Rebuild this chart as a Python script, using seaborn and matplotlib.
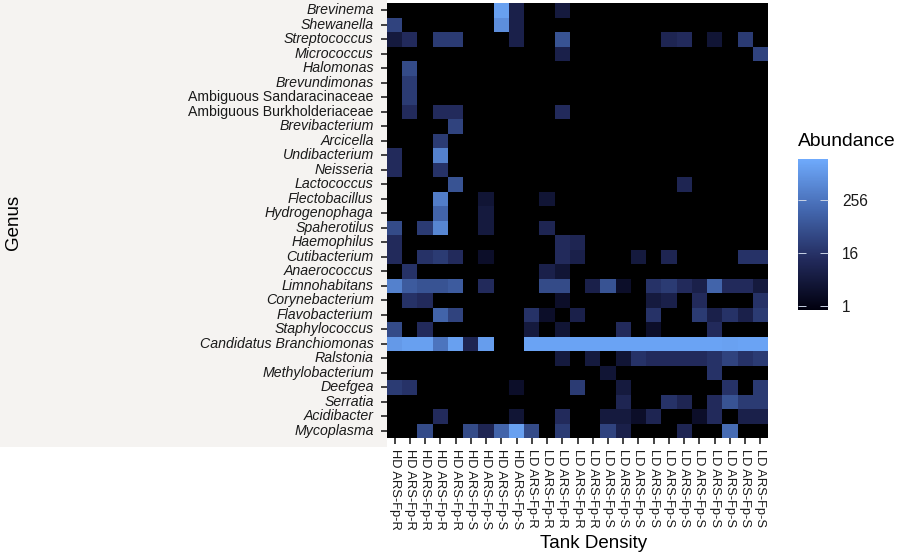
import matplotlib
matplotlib.use("Agg")
import matplotlib.pyplot as plt
from matplotlib.colors import LinearSegmentedColormap, LogNorm
from matplotlib.patches import Rectangle
import pandas as pd
import seaborn as sns

genera = ["Brevinema", "Shewanella", "Streptococcus", "Micrococcus", "Halomonas",
          "Brevundimonas", "Ambiguous Sandaracinaceae", "Ambiguous Burkholderiaceae",
          "Brevibacterium", "Arcicella", "Undibacterium", "Neisseria", "Lactococcus",
          "Flectobacillus", "Hydrogenophaga", "Spaherotilus", "Haemophilus",
          "Cutibacterium", "Anaerococcus", "Limnohabitans", "Corynebacterium",
          "Flavobacterium", "Staphylococcus", "Candidatus Branchiomonas", "Ralstonia",
          "Methylobacterium", "Deefgea", "Serratia", "Acidibacter", "Mycoplasma"]

samples = ["HD ARS-Fp-R"] * 5 + ["HD ARS-Fp-S"] * 4 + ["LD ARS-Fp-R"] * 5 + ["LD ARS-Fp-S"] * 11

abundance = [
    [0, 0, 0, 0, 0,   0, 0, 1450, 6, 0,   0, 4, 0, 0, 0,   0, 0, 0, 0, 0,   0, 0, 0, 0, 0],
    [32, 0, 0, 0, 0,   0, 0, 720, 6, 0,   0, 0, 0, 0, 0,   0, 0, 0, 0, 0,   0, 0, 0, 0, 0],
    [4, 11, 0, 23, 23,   0, 0, 0, 6, 0,   0, 64, 0, 0, 0,   0, 0, 0, 8, 11,   0, 3, 0, 23, 0],
    [0, 0, 0, 0, 0,   0, 0, 0, 0, 0,   0, 6, 0, 0, 0,   0, 0, 0, 0, 0,   0, 0, 0, 0, 32],
    [0, 45, 0, 0, 0,   0, 0, 0, 0, 0,   0, 0, 0, 0, 0,   0, 0, 0, 0, 0,   0, 0, 0, 0, 0],
    [0, 23, 0, 0, 0,   0, 0, 0, 0, 0,   0, 0, 0, 0, 0,   0, 0, 0, 0, 0,   0, 0, 0, 0, 0],
    [0, 23, 0, 0, 0,   0, 0, 0, 0, 0,   0, 0, 0, 0, 0,   0, 0, 0, 0, 0,   0, 0, 0, 0, 0],
    [0, 11, 0, 11, 11,   0, 0, 0, 0, 0,   0, 11, 0, 0, 0,   0, 0, 0, 0, 0,   0, 0, 0, 0, 0],
    [0, 0, 0, 0, 32,   0, 0, 0, 0, 0,   0, 0, 0, 0, 0,   0, 0, 0, 0, 0,   0, 0, 0, 0, 0],
    [0, 0, 0, 23, 0,   0, 0, 0, 0, 0,   0, 0, 0, 0, 0,   0, 0, 0, 0, 0,   0, 0, 0, 0, 0],
    [11, 0, 0, 420, 0,   0, 0, 0, 0, 0,   0, 0, 0, 0, 0,   0, 0, 0, 0, 0,   0, 0, 0, 0, 0],
    [11, 0, 0, 16, 0,   0, 0, 0, 0, 0,   0, 0, 0, 0, 0,   0, 0, 0, 0, 0,   0, 0, 0, 0, 0],
    [0, 0, 0, 0, 64,   0, 0, 0, 0, 0,   0, 0, 0, 0, 0,   0, 0, 0, 0, 8,   0, 0, 0, 0, 0],
    [0, 0, 0, 360, 0,   0, 3, 0, 0, 0,   3, 0, 0, 0, 0,   0, 0, 0, 0, 0,   0, 0, 0, 0, 0],
    [0, 0, 0, 128, 0,   0, 4, 0, 0, 0,   0, 0, 0, 0, 0,   0, 0, 0, 0, 0,   0, 0, 0, 0, 0],
    [45, 0, 23, 512, 0,   0, 4, 0, 0, 0,   8, 0, 0, 0, 0,   0, 0, 0, 0, 0,   0, 0, 0, 0, 0],
    [11, 0, 0, 0, 0,   0, 0, 0, 0, 0,   0, 11, 8, 0, 0,   0, 0, 0, 0, 0,   0, 0, 0, 0, 0],
    [11, 0, 16, 23, 11,   0, 2, 0, 0, 0,   0, 11, 6, 0, 0,   0, 4, 0, 8, 0,   0, 0, 0, 16, 16],
    [0, 16, 0, 0, 0,   0, 0, 0, 0, 0,   6, 3, 0, 0, 0,   0, 0, 0, 0, 0,   0, 0, 0, 0, 0],
    [420, 90, 64, 64, 90,   0, 11, 0, 0, 0,   45, 45, 0, 6, 64,   2, 0, 16, 23, 11,   6, 128, 11, 11, 4],
    [0, 16, 11, 0, 0,   0, 0, 0, 0, 0,   0, 2, 0, 0, 0,   0, 0, 4, 6, 0,   11, 0, 0, 0, 16],
    [0, 0, 0, 128, 32,   0, 0, 0, 0, 16,   2, 0, 6, 0, 0,   0, 0, 16, 0, 0,   23, 6, 16, 6, 23],
    [45, 0, 11, 0, 0,   0, 0, 0, 0, 4,   0, 3, 0, 0, 0,   11, 0, 2, 0, 0,   0, 11, 0, 0, 0],
    [1100, 1450, 1450, 256, 1450,   8, 1300, 0, 0, 1660,   1660, 1660, 1660, 1660, 1660,   1660, 1660, 1660, 1660, 1660,   1660, 1660, 1500, 1660, 1660],
    [0, 0, 0, 0, 0,   0, 0, 0, 0, 0,   0, 4, 0, 4, 0,   3, 16, 11, 11, 11,   11, 16, 32, 16, 23],
    [0, 0, 0, 0, 0,   0, 0, 0, 0, 0,   0, 0, 0, 0, 3,   0, 0, 0, 0, 0,   0, 16, 0, 0, 0],
    [23, 16, 0, 0, 0,   0, 0, 0, 2, 0,   0, 0, 23, 0, 0,   4, 0, 0, 0, 0,   0, 0, 16, 0, 23],
    [0, 0, 0, 0, 0,   0, 0, 0, 0, 0,   0, 0, 0, 0, 0,   8, 0, 0, 16, 8,   0, 11, 64, 23, 23],
    [0, 0, 0, 11, 0,   0, 0, 0, 3, 0,   0, 11, 0, 0, 4,   4, 2, 8, 0, 0,   2, 11, 0, 6, 6],
    [0, 0, 45, 0, 0,   45, 8, 128, 1450, 45,   0, 23, 0, 0, 32,   6, 0, 0, 0, 8,   0, 0, 180, 0, 0],
]

tick_values = [1, 16, 256]
colors = ["#00000E", "#222A5C", "#4468B0", "#6FAAFC"]

sns.set_theme(style="white")
plt.rcParams["font.family"] = ["Liberation Sans", "DejaVu Sans"]

W, H = 898, 556
fig = plt.figure(figsize=(W / 100, H / 100), dpi=100, facecolor="white")
fig.add_artist(Rectangle((0, 1 - 447 / H), 387 / W, 447 / H, transform=fig.transFigure,
                         facecolor="#F5F3F1", edgecolor="none", zorder=-1))

ax = fig.add_axes([387 / W, 1 - 438 / H, 381 / W, 435 / H])
cax = fig.add_axes([798 / W, 1 - 310 / H, 30 / W, 151 / H])

cmap = LinearSegmentedColormap.from_list("abund", colors, N=256)
cmap.set_bad("#000000")
frame = pd.DataFrame(abundance, index=genera)
sns.heatmap(frame, ax=ax, cbar_ax=cax, cmap=cmap, norm=LogNorm(vmin=0.8, vmax=2200),
            cbar_kws={"ticks": tick_values}, linewidths=0, rasterized=True)
ax.patch.set_facecolor("black")
for s in ax.spines.values():
    s.set_visible(False)

ax.set_xticks([i + 0.5 for i in range(len(samples))])
ax.set_xticklabels(samples, rotation=-90, fontsize=9.3, color="#1a1a1a", ha="center", va="top")
ax.set_yticks([i + 0.5 for i in range(len(genera))])
ax.set_yticklabels(genera, rotation=0, fontsize=10.2, color="#1a1a1a")
for lab in ax.get_yticklabels():
    if not lab.get_text().startswith("Ambiguous"):
        lab.set_fontstyle("italic")
ax.tick_params(axis="both", which="major", length=4, width=1.2, color="#222222", pad=4,
               bottom=True, left=True)
ax.tick_params(axis="y", pad=5.5)
ax.set_xlabel("Tank Density", fontsize=13.5, color="black")
ax.set_ylabel("Genus", fontsize=13.5, color="black")
ax.xaxis.set_label_coords(0.543, -0.223)
ax.yaxis.set_label_coords(-0.958, 0.495)

cbar = ax.collections[0].colorbar
cbar.outline.set_visible(False)
cbar.minorticks_off()
cbar.set_ticks(tick_values)
cbar.set_ticklabels([str(v) for v in tick_values])
cax.set_axisbelow(False)
cax.tick_params(axis="y", which="major", left=True, right=True, direction="in", length=6,
                width=0.7, color="#C9D3E6", labelsize=11.2, labelcolor="#1a1a1a", pad=10)
cax.yaxis.set_tick_params(labelright=True, labelleft=False)
fig.text(798 / W, 1 - 141 / H, "Abundance", fontsize=13.9, color="black", ha="left", va="center")

fig.savefig("out.png", dpi=100)
